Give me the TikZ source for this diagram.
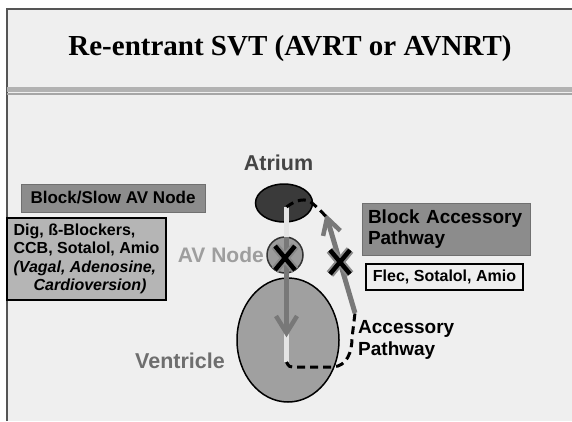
\documentclass[tikz,border=0pt]{standalone}
\usepackage{fontspec}
\setmainfont{Liberation Serif}
\newfontfamily\arial{Liberation Sans}
\usetikzlibrary{shapes.geometric,calc}

\definecolor{slidebg}{HTML}{EFEFEF}
\definecolor{framegray}{HTML}{555555}
\definecolor{panelfill}{HTML}{8C8C8C}
\definecolor{paneledge}{HTML}{707070}
\definecolor{drugfill}{HTML}{B5B5B5}
\definecolor{flecfill}{HTML}{EEEEEE}
\definecolor{ventfill}{HTML}{A0A0A0}
\definecolor{avfill}{HTML}{9C9C9C}
\definecolor{atriumfill}{HTML}{3A3A3A}
\definecolor{arrowgray}{HTML}{787878}
\definecolor{lightline}{HTML}{E4E4E4}
\definecolor{atriumtext}{HTML}{454545}
\definecolor{avtext}{HTML}{9E9E9E}
\definecolor{venttext}{HTML}{6E6E6E}
\definecolor{xhalo}{HTML}{8A8A8A}

\tikzset{
  lbl/.style={inner sep=0pt, font=\arial\bfseries\fontsize{19}{22}\selectfont},
  darkpanel/.style={draw=paneledge, fill=panelfill, line width=0.8pt, inner ysep=0pt},
  lightpanel/.style={draw=black, line width=1.8pt, inner ysep=0pt},
  paleline/.style={draw=lightline, line width=5.5pt},
  grayline/.style={draw=arrowgray, line width=5pt},
  chevron/.style={draw=arrowgray, line width=4.5pt, line join=miter},
  dashline/.style={draw=black, line width=3pt, dash pattern=on 8pt off 5pt},
  xhalo/.style={draw=xhalo, line width=8.5pt},
  xstroke/.style={draw=black, line width=4.5pt},
}

\begin{document}
\begin{tikzpicture}[x=1pt,y=-1pt]
\useasboundingbox (0,0) rectangle (572,421);
% slide background and frame
\fill[white] (0,0) rectangle (572,421);
\fill[slidebg] (7,9) rectangle (572,421);
\draw[framegray, line width=1.5pt] (7,421) -- (7,9) -- (572,9);

% title and rule
\node[anchor=base, inner sep=0pt, font=\fontsize{29}{34}\selectfont\bfseries] (title) at (290,55) {Re-entrant SVT (AVRT or AVNRT)};
\shade[left color=black!30, middle color=black, right color=black!30] (7,87.5) rectangle (572,91);
\fill[black!35] (7,93) rectangle (572,95);

% heart chambers
\node[ellipse, draw=black, line width=1.5pt, fill=ventfill, minimum width=102pt, minimum height=124pt, inner sep=0pt] (vent) at (288,340) {};
\node[ellipse, draw=black, line width=1.5pt, fill=atriumfill, minimum width=57pt, minimum height=38pt, inner sep=0pt] (atrium) at (284,203) {};
\node[circle, draw=black!80, line width=1.5pt, fill=avfill, minimum size=36pt, inner sep=0pt] (avnode) at (285,255) {};

% chamber labels
\node[lbl, anchor=base, text=atriumtext, font=\arial\bfseries\fontsize{21.5}{24}\selectfont] (atriumlbl) at (278.5,170) {Atrium};
\node[lbl, anchor=base east, text=avtext, font=\arial\bfseries\fontsize{21}{24}\selectfont] (avlbl) at (264,262) {AV Node};
\node[lbl, anchor=base east, text=venttext, font=\arial\bfseries\fontsize{21.5}{24}\selectfont] (ventlbl) at (225,368) {Ventricle};
\node[lbl, anchor=base west] (acc1) at (358,333) {Accessory};
\node[lbl, anchor=base west] (acc2) at (358,355) {Pathway};

% panels
\node[darkpanel, minimum width=184pt, minimum height=28pt, font=\arial\bfseries\fontsize{17}{20}\selectfont] (slow) at (113,198) {Block/Slow AV Node};
\node[lightpanel, fill=drugfill, minimum width=159pt, minimum height=82pt, inner xsep=0pt, align=left, font=\arial\bfseries\fontsize{16}{18.5}\selectfont] (drugs) at (86.5,259)
  {Dig, ß-Blockers,\\CCB, Sotalol, Amio\\\textit{(Vagal, Adenosine,}\\\hspace*{20pt}\textit{Cardioversion)}};
\node[darkpanel, minimum height=52pt, text width=156pt, inner xsep=6pt, align=left, font=\arial\bfseries\fontsize{19}{21}\selectfont] (blockacc) at (446,229) {Block Accessory\\Pathway};
\node[lightpanel, fill=flecfill, minimum width=157pt, minimum height=26pt, font=\arial\bfseries\fontsize{16}{19}\selectfont] (flec) at (444.5,277) {Flec, Sotalol, Amio};

% conduction path points
\coordinate (a0) at (286.5,207);
\coordinate (a1) at (286.5,237);
\coordinate (v0) at (286.5,333);
\coordinate (v1) at (286.5,362);
\coordinate (p0) at (355,313);
\coordinate (p1) at (327,218);

% normal path through the AV node
\draw[paleline] (a0) -- (a1);
\draw[paleline] (v0) -- (v1);
\draw[grayline] (a1) -- ($(v0)+(0,-3)$);
\draw[chevron] ($(v0)+(-10.5,-17)$) -- (v0) -- ($(v0)+(10.5,-17)$);

% retrograde accessory pathway
\draw[dashline] (v1) .. controls (289,367) .. (297,367) -- (333,367)
  .. controls (347,366) and (352,352) .. (352,338) -- (p0);
\draw[grayline] (p0) -- ($(p1)+(0.9,3)$);
\draw[chevron] (340.3,230.7) -- (p1) -- (323.1,235.9);
\draw[dashline] (a0) .. controls (297,199) and (306,198) .. (312,203)
  .. controls (318,208) and (324,214) .. (p1);

% block marks
\coordinate (x1) at (285,258);
\coordinate (x2) at (340,262);
\foreach \c in {x1,x2}{
  \draw[xhalo] ($(\c)+(-10,-12)$) -- ($(\c)+(10,12)$);
  \draw[xhalo] ($(\c)+(10,-12)$) -- ($(\c)+(-10,12)$);
  \draw[xstroke] ($(\c)+(-10,-12)$) -- ($(\c)+(10,12)$);
  \draw[xstroke] ($(\c)+(10,-12)$) -- ($(\c)+(-10,12)$);
}
\end{tikzpicture}
\end{document}
